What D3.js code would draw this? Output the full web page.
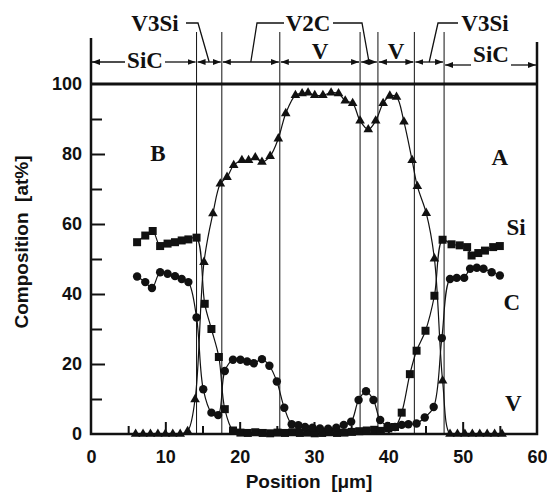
<html>
<head>
<style>
body { margin: 0; padding: 0; background: #fff; }
svg { display: block; }
.axis text { font-family: "Liberation Sans", Arial, sans-serif; font-weight: bold; font-size: 18px; fill: #111; }
.axis path { display: none; }
.axis line { stroke: #111; stroke-width: 2; }
.title { font-family: "Liberation Sans", Arial, sans-serif; font-weight: bold; font-size: 19px; fill: #111; white-space: pre; }
.lbl { font-family: "Liberation Serif", "Times New Roman", serif; font-weight: bold; font-size: 23px; fill: #111; }
.series { fill: none; stroke: #111; stroke-width: 1.2; }
</style>
<script src="https://cdnjs.cloudflare.com/ajax/libs/d3/7.8.5/d3.min.js"></script>
</head>
<body>
<svg id="chart" width="547" height="504"></svg>
<script>
var width = 547, height = 504

// Si (squares), position in um / at%
var siX = [6.2, 7.3, 8.3, 9.3, 10.3, 11.3, 12.2, 13.1, 14.2,
  15.3, 16.2, 17.2, 18.0, 19.1,
  20.1, 21.1, 22.1, 23.1, 24.1, 25.1, 26.1, 27.1, 28.1, 29.1, 30.1, 31.1, 32.1, 33.1, 34.1, 35.1, 36.1, 37.1, 38.1,
  39.0, 40.0, 40.9,
  41.8, 42.9, 43.8, 45.0, 46.2, 47.3,
  48.5, 49.6, 50.6, 51.2, 52.1, 53.0, 54.1, 55.0]
var siY = [54.8, 56.7, 58.0, 53.7, 54.4, 54.8, 55.3, 55.6, 56.1,
  37.2, 30.0, 22.0, 7.1, 1.0,
  0.4, 0.3, 0.5, 0.3, 0.2, 0.4, 0.3, 0.5, 0.3, 0.4, 0.2, 0.3, 0.5, 0.3, 0.4, 0.6, 0.8, 1.0, 1.2,
  0.9, 1.6, 2.0,
  6.1, 17.1, 23.8, 29.5, 39.5, 55.5,
  54.2, 53.9, 53.4, 51.0, 51.7, 52.4, 53.4, 53.7]

// C (circles)
var cX = [6.2, 7.3, 8.2, 9.3, 10.3, 11.3, 12.2, 13.1, 14.2,
  15.1, 16.2, 17.1, 18.0, 19.1, 20.1, 21.0, 21.9, 23.0, 24.0, 25.0, 26.0,
  27.0, 27.9, 28.8, 29.8, 30.8, 31.9, 33.0, 34.0, 35.0, 36.0, 37.0, 38.0, 38.9, 39.9, 40.9,
  41.8, 42.7, 43.8, 44.9, 46.1, 47.2, 48.3, 49.2, 50.2, 51.0, 51.9, 52.8, 53.9, 55.0]
var cY = [45.0, 43.4, 41.7, 46.2, 45.8, 45.1, 44.3, 43.4, 33.3,
  12.8, 6.1, 5.4, 18.0, 21.2, 21.2, 20.7, 20.2, 21.4, 19.5, 15.0, 7.5,
  2.8, 2.5, 2.0, 1.8, 1.6, 1.5, 1.8, 2.6, 3.5, 9.7, 12.2, 9.7, 4.0, 2.3, 2.0,
  2.6, 2.8, 3.0, 4.7, 7.7, 27.4, 44.3, 44.6, 44.6, 47.2, 47.5, 47.2, 46.2, 45.3]

// V (triangles)
var vX = [6.0, 7.0, 8.0, 9.0, 10.0, 11.0, 12.0, 13.0, 14.0,
  15.2, 16.4, 17.4, 18.3, 19.2, 20.3, 21.2, 22.1, 23.0, 24.1, 25.2, 26.2,
  27.5, 28.4, 29.2, 30.1, 31.2, 32.3, 33.3, 34.2, 35.2, 36.2, 37.3, 38.3, 39.3, 40.2, 41.1,
  42.1, 43.2, 43.9, 45.1, 46.2, 47.3, 48.3, 49.3, 50.3, 51.3, 52.3, 53.3, 54.3, 55.3]
var vY = [0, 0, 0, 0, 0, 0, 0, 0.8, 9.9,
  49.1, 63.0, 71.5, 73.4, 76.8, 78.2, 78.2, 79.0, 77.7, 79.4, 84.4, 91.6,
  96.8, 97.3, 97.5, 96.8, 96.8, 97.5, 97.3, 95.2, 94.5, 89.5, 87.0, 89.5, 94.5, 96.6, 96.3,
  89.2, 78.2, 70.8, 63.1, 50.1, 15.2, 0, 0, 0, 0, 0, 0, 0, 0]

var xTicks = [0, 10, 20, 30, 40, 50, 60]
var xMinor = [5, 15, 25, 35, 45, 55]
var yTicks = [0, 20, 40, 60, 80, 100]
var yMinor = [10, 30, 50, 70, 90]

// phase boundaries (um) and phase names between them
var bounds = [0, 14.2, 17.6, 25.4, 36.2, 38.6, 43.5, 47.5, 60]
var phases = ['SiC', 'V3Si', 'V2C', 'V', 'V2C', 'V', 'V3Si', 'SiC']

var x = d3.scaleLinear().domain([0, 60]).range([91, 537])
var y = d3.scaleLinear().domain([0, 100]).range([434, 84])

var svg = d3.select('#chart')

svg.append('defs').append('marker')
  .attr('id', 'arr')
  .attr('viewBox', '0 0 8 6')
  .attr('refX', 8).attr('refY', 3)
  .attr('markerWidth', 8).attr('markerHeight', 6)
  .attr('markerUnits', 'userSpaceOnUse')
  .attr('orient', 'auto-start-reverse')
  .append('path').attr('d', 'M0,0L8,3L0,6Z').attr('fill', '#111')

// phase boundary lines
svg.append('g').selectAll('line')
  .data(bounds.slice(1, -1))
  .join('line')
  .attr('x1', function(d) { return x(d) }).attr('x2', function(d) { return x(d) })
  .attr('y1', 32).attr('y2', y(0))
  .attr('stroke', '#111').attr('stroke-width', 1)

// arrow row
var rowY = 62
var regions = phases.map(function(p, i) { return {name: p, a: bounds[i], b: bounds[i + 1]} })
var arrows = svg.append('g')
regions.forEach(function(r, i) {
  var a = x(r.a) + 1, b = x(r.b) - 1
  if (i == 0 || i == 7) {
    var ry = i == 0 ? rowY : rowY + 3
    var mid = i == 0 ? 145 : 491
    arrows.append('line').attr('x1', mid - 20).attr('x2', a).attr('y1', ry).attr('y2', ry)
      .attr('stroke', '#111').attr('stroke-width', 1.3).attr('marker-end', 'url(#arr)')
    arrows.append('line').attr('x1', mid + 20).attr('x2', b).attr('y1', ry).attr('y2', ry)
      .attr('stroke', '#111').attr('stroke-width', 1.3).attr('marker-end', 'url(#arr)')
    svg.append('text').attr('class', 'lbl').attr('text-anchor', 'middle')
      .attr('x', mid).attr('y', i == 0 ? 68 : 62).text(r.name)
  } else {
    arrows.append('line').attr('x1', a).attr('x2', b).attr('y1', rowY).attr('y2', rowY)
      .attr('stroke', '#111').attr('stroke-width', 1.3)
      .attr('marker-start', 'url(#arr)').attr('marker-end', 'url(#arr)')
  }
  if (r.name == 'V') {
    svg.append('text').attr('class', 'lbl').attr('text-anchor', 'middle')
      .attr('x', x((r.a + r.b) / 2)).attr('y', 59).text('V')
  }
})

// labels with leader lines
var topLabels = [
  {text: 'V3Si', x: 155, leaders: [[186, 198, 1]]},
  {text: 'V2C', x: 308, leaders: [[284, 257, 2], [333, 362, 4]]},
  {text: 'V3Si', x: 485, leaders: [[458, 438, 6]]}
]
topLabels.forEach(function(t) {
  svg.append('text').attr('class', 'lbl').attr('text-anchor', 'middle')
    .attr('x', t.x).attr('y', 31).text(t.text)
  t.leaders.forEach(function(l) {
    var r = regions[l[2]]
    svg.append('path')
      .attr('d', 'M' + l[0] + ',23H' + l[1] + 'L' + x((r.a + r.b) / 2) + ',' + rowY)
      .attr('fill', 'none').attr('stroke', '#111').attr('stroke-width', 1.3)
  })
})

// axes (ticks point inward)
svg.append('g').attr('class', 'axis').attr('transform', 'translate(0,' + y(0) + ')')
  .call(d3.axisTop(x).tickValues(xTicks.slice(1, -1)).tickSize(12).tickFormat(''))
svg.append('g').attr('class', 'axis').attr('transform', 'translate(0,' + y(0) + ')')
  .call(d3.axisTop(x).tickValues(xMinor).tickSize(8).tickFormat(''))
svg.append('g').attr('class', 'axis').attr('transform', 'translate(0,' + y(0) + ')')
  .call(d3.axisBottom(x).tickValues(xTicks).tickSize(0).tickPadding(16).tickFormat(d3.format('d')))

svg.append('g').attr('class', 'axis').attr('transform', 'translate(' + x(0) + ',0)')
  .call(d3.axisRight(y).tickValues(yTicks.slice(1, -1)).tickSize(14).tickFormat(''))
svg.append('g').attr('class', 'axis').attr('transform', 'translate(' + x(0) + ',0)')
  .call(d3.axisRight(y).tickValues(yMinor).tickSize(11).tickFormat(''))
svg.append('g').attr('class', 'axis').attr('transform', 'translate(' + x(0) + ',0)')
  .call(d3.axisLeft(y).tickValues(yTicks).tickSize(0).tickPadding(9).tickFormat(d3.format('d')))

// frame
svg.append('path')
  .attr('d', 'M' + x(0) + ',38V' + y(0) + 'H' + x(60) + 'V42')
  .attr('fill', 'none').attr('stroke', '#111').attr('stroke-width', 2.5)
svg.append('line')
  .attr('x1', x(0)).attr('x2', x(60)).attr('y1', y(100)).attr('y2', y(100))
  .attr('stroke', '#111').attr('stroke-width', 3)

// series
var line = d3.line().curve(d3.curveCatmullRom.alpha(0.5))
  .x(function(d) { return x(d[0]) }).y(function(d) { return y(d[1]) })
var si = d3.zip(siX, siY), c = d3.zip(cX, cY), v = d3.zip(vX, vY)

svg.append('path').attr('class', 'series').attr('d', line(si))
svg.append('path').attr('class', 'series').attr('d', line(c))
svg.append('path').attr('class', 'series').attr('d', line(v))

svg.append('g').selectAll('path').data(si).join('path')
  .attr('d', d3.symbol(d3.symbolSquare, 64))
  .attr('transform', function(d) { return 'translate(' + x(d[0]) + ',' + y(d[1]) + ')' })
  .attr('fill', '#111')
svg.append('g').selectAll('circle').data(c).join('circle')
  .attr('cx', function(d) { return x(d[0]) }).attr('cy', function(d) { return y(d[1]) })
  .attr('r', 4.2).attr('fill', '#111')
svg.append('g').selectAll('path').data(v).join('path')
  .attr('d', d3.symbol(d3.symbolTriangle, 40))
  .attr('transform', function(d) { return 'translate(' + x(d[0]) + ',' + y(d[1]) + ')' })
  .attr('fill', '#111')

// in-plot labels
var inLabels = [['B', 9.0, 78], ['A', 55.0, 77], ['Si', 57.2, 57], ['C', 56.6, 35.5], ['V', 56.8, 6.5]]
svg.append('g').selectAll('text').data(inLabels).join('text')
  .attr('class', 'lbl').attr('text-anchor', 'middle')
  .attr('x', function(d) { return x(d[1]) }).attr('y', function(d) { return y(d[2]) })
  .text(function(d) { return d[0] })

// titles
svg.append('text').attr('class', 'title').attr('text-anchor', 'middle')
  .attr('transform', 'translate(28,242) rotate(-90)')
  .text('Composition  [at%]')
svg.append('text').attr('class', 'title').attr('text-anchor', 'middle')
  .attr('x', 309).attr('y', 488)
  .text('Position  [\u03bcm]')
</script>
</body>
</html>
